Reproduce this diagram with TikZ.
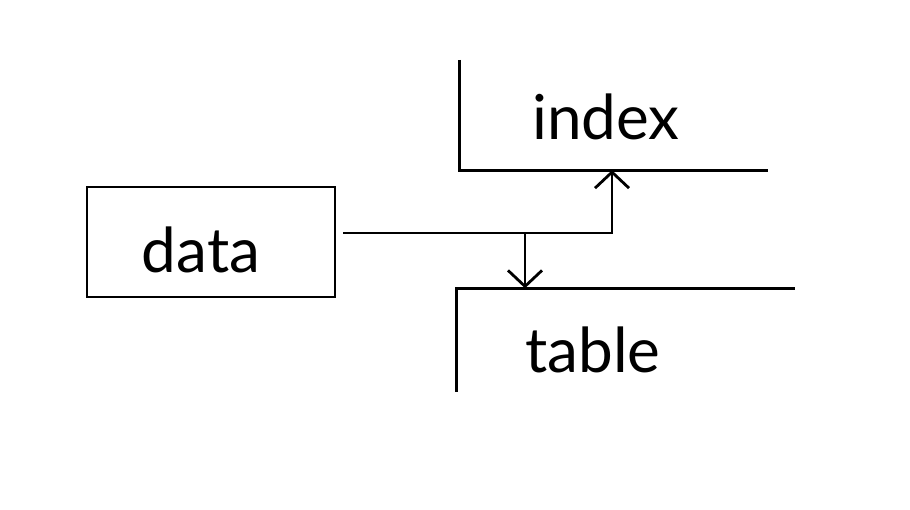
\documentclass[tikz,border=0pt]{standalone}
\usepackage{fontspec}
\setmainfont{Lato}
\usetikzlibrary{arrows.meta}

\begin{document}
\begin{tikzpicture}[x=1pt,y=-1pt,
   every node/.style={font=\fontsize{62}{70}\selectfont},
   box/.style={draw,line width=2.8pt,minimum width=248pt,minimum height=110pt},
   openbox/.style={inner sep=0pt,minimum width=#1},
   word/.style={inner sep=0pt},
   link/.style={line width=2.8pt,-{Straight Barb[length=16pt,width=34pt,line width=2.8pt]}}]
\useasboundingbox (0,0) rectangle (910,509);
% left box
\node[box] (data) at (211,242) {};
\node[word] (datatext) at (201,250) {data};
% open frames on the right
\node[openbox=308pt,minimum height=110pt] (index) at (614,115) {};
\node[word] (indextext) at (606,117) {index};
\node[openbox=338pt,minimum height=103pt] (table) at (626,340) {};
\node[word] (tabletext) at (593,350) {table};
\draw[line width=2.8pt] (index.north west) |- (index.south east);
\draw[line width=2.8pt] (table.south west) |- (table.north east);
% connectors
\coordinate (split) at (525,233);
\coordinate (turn) at (612,233);
\draw[link] ([xshift=7pt,yshift=9pt]data.east) -- (turn) -- (turn |- index.south);
\draw[link] (split) -- (split |- table.north);
\end{tikzpicture}
\end{document}
